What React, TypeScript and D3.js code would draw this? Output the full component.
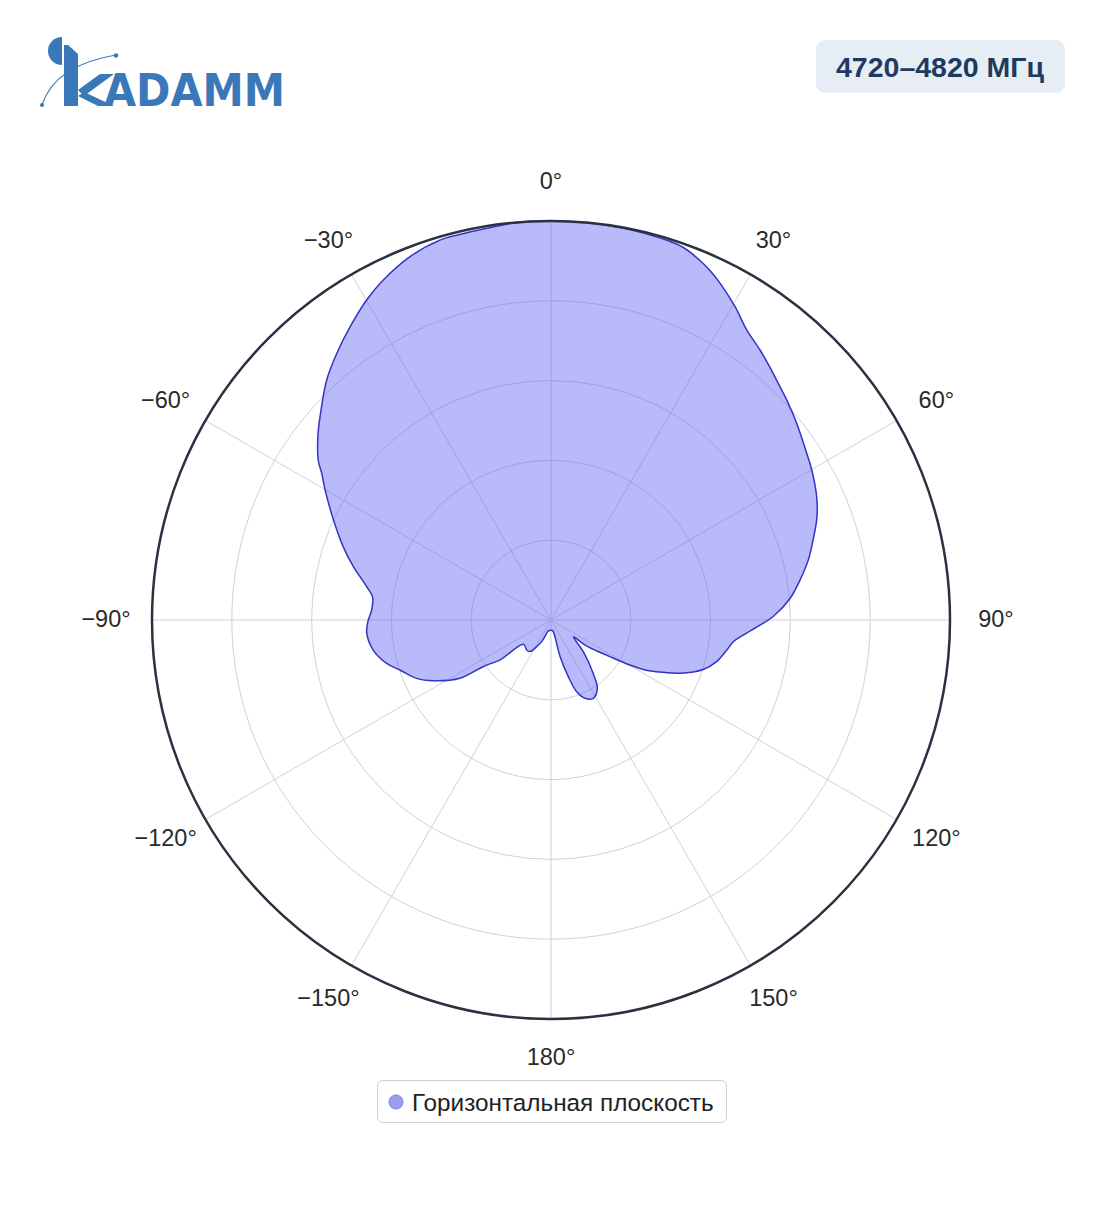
import React from "react";
import * as d3 from "d3";

// Azimuth (degrees, clockwise from 0° at top) and normalized gain
const ANGLES = [
  0, 5, 10, 14, 16.9, 19.5, 22.4, 24.5, 26.6, 30.4, 34, 37.7, 42, 44.5, 47, 51.3, 56.9,
  60.1, 65.1, 68.8, 73, 76.9, 80.9, 84.8, 89.1, 91.4, 94.5, 96.8, 99.7, 104.1, 108,
  112.4, 115.5, 118, 119.7, 121.5, 124, 126.3, 126.8, 134.5, 141.6, 145.9, 151.6,
  156.5, 160.3, 163, 166, 167, 171, 180, 194, 198, 203.2, 209.5, 213.5, 218.6,
  228.7, 231.9, 235, 235.8, 237.4, 242.7, 246.5, 251.7, 255.2, 260.4, 265.9, 269.5,
  273.2, 277.4, 280.2, 285.1, 289.4, 294.7, 299.9, 302.6, 304.5, 308.7, 312.9, 316.9,
  321.2, 325.6, 330.1, 333.7, 338.8, 343.7, 346.2, 350.7, 355,
];
const GAIN = [
  1.0, 1.0, 0.999, 0.997, 0.995, 0.991, 0.976, 0.962, 0.945, 0.911, 0.877, 0.856, 0.832, 0.819,
  0.808, 0.789, 0.765, 0.754, 0.734, 0.715, 0.687, 0.662, 0.632, 0.602, 0.557, 0.524,
  0.483, 0.46, 0.447, 0.428, 0.401, 0.35, 0.303, 0.267, 0.228, 0.182, 0.139, 0.106,
  0.07, 0.114, 0.17, 0.207, 0.223, 0.214, 0.191, 0.149, 0.095, 0.04, 0.027, 0.026,
  0.028, 0.035, 0.059, 0.081, 0.095, 0.097, 0.092, 0.162, 0.197, 0.215, 0.271, 0.332,
  0.367, 0.399, 0.426, 0.452, 0.463, 0.459, 0.45, 0.451, 0.469, 0.513, 0.552, 0.6,
  0.653, 0.682, 0.708, 0.748, 0.785, 0.823, 0.857, 0.891, 0.926, 0.95, 0.977, 0.992,
  0.993, 0.995, 1.0,
];
const RING_VALUES = [0.2, 0.4, 0.6, 0.8];
const ANGLE_TICKS = [0, 30, 60, 90, 120, 150, 180, 210, 240, 270, 300, 330];
const ANGLE_LABELS = ["0°", "30°", "60°", "90°", "120°", "150°", "180°", "−150°", "−120°", "−90°", "−60°", "−30°"];
const TITLE = "4720–4820 МГц";
const SERIES_NAME = "Горизонтальная плоскость";

const CX = 551;
const CY = 620;
const R = 399;
const FONT = "'Liberation Sans', Arial, Helvetica, sans-serif";

export default function App() {
  const r = d3.scaleLinear().domain([0, 1]).range([0, R]);
  const toRad = (deg: number) => (deg * Math.PI) / 180;
  const line = d3
    .lineRadial<number>()
    .angle((_, i) => toRad(ANGLES[i]))
    .radius((d) => r(d))
    .curve(d3.curveCatmullRomClosed.alpha(0.5));
  const path = line(GAIN) || "";

  return (
    <svg
      width={1104}
      height={1211}
      style={{ position: "absolute", left: 0, top: 0, background: "#fff" }}
      fontFamily={FONT}
    >
      {/* Logo */}
      <g fill="#3b78b9">
        <path d="M62,37 A14,14 0 0 0 62,65 Z" />
        <path d="M64,45 L68,45 L78,54 L78,106 L64,106 Z" />
        <path d="M78,90 L100,74 L114,74 L84,96 Z" />
        <path d="M84,92 L114,106 L98,106 L78,96 Z" />
        <text x={104} y={106} fontSize={45} fontWeight={700} textLength={181} lengthAdjust="spacingAndGlyphs" fontFamily="'DejaVu Sans', sans-serif">ADAMM</text>
        <path d="M42,105 Q55,65 116,55" fill="none" stroke="#3b78b9" strokeWidth={1.2} />
        <circle cx={42} cy={105} r={2} />
        <circle cx={116} cy={55.5} r={2.2} />
      </g>

      {/* Title badge */}
      <rect x={816} y={40} width={249} height={53} rx={9} fill="#e6edf5" />
      <text x={940} y={77} textAnchor="middle" fontSize={28.5} fontWeight={700} fill="#1f3a5f">{TITLE}</text>

      {/* Grid */}
      <g transform={`translate(${CX},${CY})`}>
        {RING_VALUES.map((v) => (
          <circle key={v} r={r(v)} fill="none" stroke="#cfd1dd" strokeWidth={1} />
        ))}
        {ANGLE_TICKS.map((a) => (
          <line key={a} x1={0} y1={0} x2={r(1) * Math.sin(toRad(a))} y2={-r(1) * Math.cos(toRad(a))} stroke="#cfd1dd" strokeWidth={1} />
        ))}
        <path d={path} fill="rgba(99,102,241,0.45)" stroke="#3333c4" strokeWidth={1.5} strokeLinejoin="round" />
        <circle r={r(1)} fill="none" stroke="#2c3142" strokeWidth={2.5} />
        {ANGLE_TICKS.map((a, i) => (
          <text
            key={a}
            x={(R + 46) * Math.sin(toRad(a))}
            y={-1 - (R + 39) * Math.cos(toRad(a))}
            textAnchor="middle"
            dominantBaseline="central"
            fontSize={23.5}
            fill="#2a2a2a"
          >
            {ANGLE_LABELS[i]}
          </text>
        ))}
      </g>

      {/* Legend */}
      <rect x={377.5} y={1080.5} width={349} height={42} rx={5} fill="#fff" stroke="#d0d0d0" strokeWidth={1} />
      <circle cx={396} cy={1102} r={7} fill="#9c9ef2" stroke="#7c7ee0" strokeWidth={1} />
      <text x={412} y={1102} dominantBaseline="central" fontSize={24.3} fill="#222">{SERIES_NAME}</text>
    </svg>
  );
}
